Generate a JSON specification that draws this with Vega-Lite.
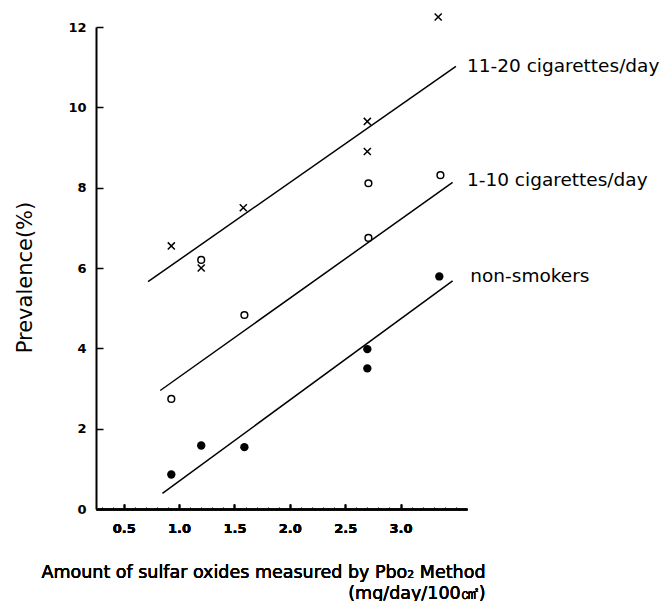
{
  "$schema": "https://vega.github.io/schema/vega-lite/v6.json",
  "width": 371,
  "height": 482,
  "autosize": {"type": "none"},
  "padding": {"left": 96, "top": 27, "right": 194, "bottom": 92},
  "background": "white",
  "config": {
    "view": {"stroke": null},
    "axis": {"grid": false, "domainColor": "black", "tickColor": "black", "labelColor": "black", "titleColor": "black"}
  },
  "datasets": {
    "points": [
      {"series": "11-20", "x": 0.93, "y": 6.55},
      {"series": "11-20", "x": 1.2, "y": 6.0},
      {"series": "11-20", "x": 1.58, "y": 7.5},
      {"series": "11-20", "x": 2.7, "y": 8.9},
      {"series": "11-20", "x": 2.7, "y": 9.65},
      {"series": "11-20", "x": 3.34, "y": 12.25},
      {"series": "1-10", "x": 0.93, "y": 2.74},
      {"series": "1-10", "x": 1.2, "y": 6.2},
      {"series": "1-10", "x": 1.59, "y": 4.83},
      {"series": "1-10", "x": 2.71, "y": 6.75},
      {"series": "1-10", "x": 2.71, "y": 8.11},
      {"series": "1-10", "x": 3.36, "y": 8.31},
      {"series": "non", "x": 0.93, "y": 0.86},
      {"series": "non", "x": 1.2, "y": 1.58},
      {"series": "non", "x": 1.59, "y": 1.54},
      {"series": "non", "x": 2.7, "y": 3.5},
      {"series": "non", "x": 2.7, "y": 3.98},
      {"series": "non", "x": 3.35, "y": 5.79}
    ],
    "lines": [
      {"series": "11-20", "x": 0.72, "y": 5.66},
      {"series": "11-20", "x": 3.5, "y": 11.02},
      {"series": "1-10", "x": 0.83, "y": 2.95},
      {"series": "1-10", "x": 3.47, "y": 8.13},
      {"series": "non", "x": 0.85, "y": 0.39},
      {"series": "non", "x": 3.47, "y": 5.68}
    ],
    "labels": [
      {"label": "11-20 cigarettes/day", "x": 3.6, "y": 11.02},
      {"label": "1-10 cigarettes/day", "x": 3.6, "y": 8.19},
      {"label": "non-smokers", "x": 3.63, "y": 5.79}
    ]
  },
  "encoding": {
    "x": {
      "field": "x", "type": "quantitative",
      "scale": {"domain": [0.25, 3.6], "nice": false, "zero": false},
      "axis": {
        "orient": "bottom",
        "values": [0.5, 1.0, 1.5, 2.0, 2.5, 3.0],
        "format": ".1f",
        "tickSize": -5, "tickWidth": 1.5, "domainWidth": 2,
        "labelFont": "DejaVu Sans", "labelFontWeight": "bold", "labelFontSize": 13,
        "labelPadding": 18, "labelBaseline": "top",
        "title": ["Amount of sulfar oxides measured by Pbo₂ Method", "(mg/day/100㎠)"],
        "titleFont": "DejaVu Sans", "titleFontSize": 17.5, "titleFontWeight": "normal",
        "titleAlign": "right", "titleBaseline": "alphabetic", "titleX": 389, "titleY": 68, "titleLineHeight": 21
      }
    },
    "y": {
      "field": "y", "type": "quantitative",
      "scale": {"domain": [0, 12], "nice": false, "zero": true},
      "axis": {
        "values": [0, 2, 4, 6, 8, 10, 12],
        "tickSize": -7, "tickWidth": 1.5, "domainWidth": 2,
        "labelFont": "DejaVu Sans", "labelFontWeight": "bold", "labelFontSize": 13,
        "labelPadding": 17,
        "encode": {"labels": {"update": {"dy": {"signal": "datum.value === 0 ? 6 : 0"}}}},
        "title": "Prevalence(%)",
        "titleFont": "DejaVu Sans", "titleFontSize": 21, "titleFontWeight": "normal",
        "titleAngle": -90, "titleAlign": "center", "titleBaseline": "middle", "titleX": -71, "titleY": 250
      }
    }
  },
  "layer": [
    {
      "data": {"name": "lines"},
      "mark": {"type": "line", "color": "black", "strokeWidth": 1.5},
      "encoding": {
        "x": {
          "field": "x", "type": "quantitative",
          "scale": {"domain": [0.25, 3.6], "nice": false, "zero": false},
          "axis": {
            "orient": "bottom",
            "values": [0.3, 0.4, 0.6, 0.7, 0.8, 0.9, 1.1, 1.2, 1.3, 1.4, 1.6, 1.7, 1.8, 1.9, 2.1, 2.2, 2.3, 2.4, 2.6, 2.7, 2.8, 2.9, 3.1, 3.2, 3.3, 3.4, 3.5],
            "domain": false, "labels": false, "ticks": true, "tickSize": -2, "tickWidth": 1, "title": null
          }
        },
        "detail": {"field": "series"}
      }
    },
    {
      "data": {"name": "points"},
      "transform": [{"filter": "datum.series === '11-20'"}],
      "mark": {"type": "point", "shape": "M-1,-1L1,1M-1,1L1,-1", "size": 50, "filled": false, "stroke": "black", "strokeWidth": 1.5, "opacity": 1}
    },
    {
      "data": {"name": "points"},
      "transform": [{"filter": "datum.series === '1-10'"}],
      "mark": {"type": "point", "shape": "circle", "size": 45, "filled": false, "stroke": "black", "strokeWidth": 1.5, "opacity": 1}
    },
    {
      "data": {"name": "points"},
      "transform": [{"filter": "datum.series === 'non'"}],
      "mark": {"type": "point", "shape": "circle", "size": 70, "filled": true, "fill": "black", "opacity": 1}
    },
    {
      "data": {"name": "labels"},
      "mark": {"type": "text", "align": "left", "baseline": "middle", "font": "DejaVu Sans", "fontSize": 18.5, "color": "black"},
      "encoding": {"text": {"field": "label"}}
    }
  ],
  "resolve": {"axis": {"x": "independent"}}
}
